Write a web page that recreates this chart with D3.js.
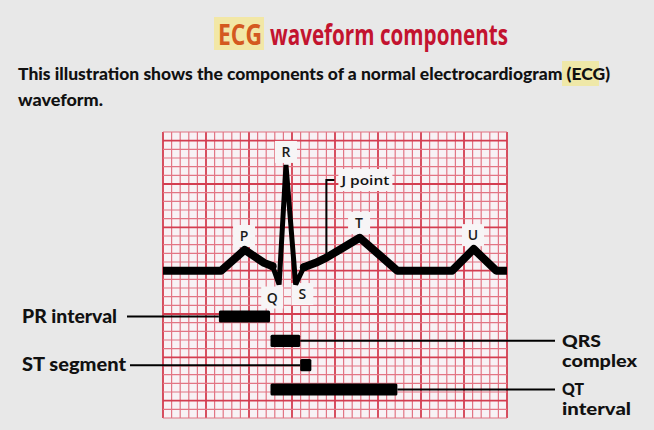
<!DOCTYPE html>
<html><head><meta charset="utf-8">
<script src="https://cdn.jsdelivr.net/npm/d3@7"></script>
<style>html,body{margin:0;padding:0;background:#e8e8e8;}svg{display:block;}</style>
</head><body>
<script>
// ---- data ----
const waveTime = [0, 0.27, 0.38, 0.47, 0.51, 0.54, 0.572, 0.617, 0.655, 0.71, 0.76, 0.915, 1.09, 1.345, 1.445, 1.55, 1.6]; // seconds
const waveMv   = [0, 0, 0.24, 0.09, 0.05, -0.16, 1.22, -0.16, 0.04, 0.09, 0.15, 0.38, 0.0, 0, 0.25, 0, 0];       // mV
const qrsRange = [4, 8]; // indices of QRS section (thinner stroke)
const waveLabels = ["P", "Q", "R", "S", "T", "U"];
const waveLabelT = [0.377, 0.508, 0.572, 0.648, 0.912, 1.442];
const waveLabelMv = [0.40, -0.31, 1.37, -0.27, 0.55, 0.41];
const jPointT = 0.76, jPointMv = 0.15;
const intervalNames = ["PR interval", "QRS complex", "ST segment", "QT interval"];
const intervalStart = [0.26, 0.50, 0.638, 0.50];
const intervalEnd   = [0.498, 0.638, 0.69, 1.09];
const gridTimeDomain = [0, 1.6];
const gridMvDomain = [-1.7, 1.6];

const W = 654, H = 430;
const svg = d3.select("body").append("svg").attr("width", W).attr("height", H);
svg.append("rect").attr("width", W).attr("height", H).attr("fill", "#e8e8e8");

const x = d3.scaleLinear().domain(gridTimeDomain).range([163, 507]);
const y = d3.scaleLinear().domain(gridMvDomain).range([418, 132]);
const bandY = d3.scaleBand().domain(intervalNames).range([308, 398]).paddingInner(0.5).paddingOuter(0.1);

const font = "'Open Sans', 'DejaVu Sans', sans-serif";
const narrow = "Lato, 'Open Sans', sans-serif";

// ---- title ----
svg.append("rect").attr("x", 214).attr("y", 17).attr("width", 50).attr("height", 33).attr("fill", "#f2e7a6");
svg.append("text").attr("x", 218).attr("y", 45).attr("font-family", font).attr("font-weight", 700)
  .attr("font-size", 28).attr("fill", "#d4591f").attr("textLength", 44).attr("lengthAdjust", "spacingAndGlyphs").text("ECG");
svg.append("text").attr("x", 270).attr("y", 45).attr("font-family", font).attr("font-weight", 700)
  .attr("font-size", 28).attr("fill", "#c3132f").attr("textLength", 238).attr("lengthAdjust", "spacingAndGlyphs").text("waveform components");

// ---- subtitle ----
svg.append("rect").attr("x", 562).attr("y", 61).attr("width", 37).attr("height", 25).attr("fill", "#efe8a8");
svg.append("text").attr("x", 18).attr("y", 80).attr("font-family", narrow).attr("font-weight", 900)
  .attr("font-size", 17).attr("fill", "#111").attr("textLength", 592).attr("lengthAdjust", "spacingAndGlyphs")
  .text("This illustration shows the components of a normal electrocardiogram (ECG)");
svg.append("text").attr("x", 18).attr("y", 106).attr("font-family", narrow).attr("font-weight", 900)
  .attr("font-size", 17).attr("fill", "#111").attr("textLength", 85).attr("lengthAdjust", "spacingAndGlyphs")
  .text("waveform.");

// ---- grid ----
const g = svg.append("g");
g.append("rect").attr("x", x(gridTimeDomain[0])).attr("y", y(gridMvDomain[1]))
  .attr("width", x(gridTimeDomain[1]) - x(gridTimeDomain[0])).attr("height", y(gridMvDomain[0]) - y(gridMvDomain[1]))
  .attr("fill", "#f8f2f5");
const tTicks = d3.range(0, 41).map(i => i * 0.04);
const vTicks = d3.range(-17, 17).map(i => i / 10);
g.selectAll("line.v").data(tTicks).join("line")
  .attr("x1", d => x(d)).attr("x2", d => x(d)).attr("y1", y(gridMvDomain[1])).attr("y2", y(gridMvDomain[0]))
  .attr("stroke", (d, i) => i % 5 === 0 ? "#d33d50" : "#e27584")
  .attr("stroke-width", (d, i) => i % 5 === 0 ? 1.8 : 1.2);
g.selectAll("line.h").data(vTicks).join("line")
  .attr("y1", d => y(d)).attr("y2", d => y(d)).attr("x1", x(gridTimeDomain[0])).attr("x2", x(gridTimeDomain[1]))
  .attr("stroke", (d, i) => (Math.round(d * 10) % 5 === 0) ? "#d33d50" : "#e27584")
  .attr("stroke-width", (d, i) => (Math.round(d * 10) % 5 === 0) ? 1.8 : 1.2);

// ---- label backgrounds ----
const lbl = svg.append("g");
waveLabels.forEach((L, i) => {
  const cx = x(waveLabelT[i]), cy = y(waveLabelMv[i]);
  lbl.append("rect").attr("x", cx - 11).attr("y", cy - 11).attr("width", 22).attr("height", 22).attr("fill", "#f7f5f6");
});
lbl.append("rect").attr("x", x(jPointT) + 12).attr("y", 169).attr("width", 54).attr("height", 22).attr("fill", "#f7f5f6");

// ---- waveform ----
const pts = waveTime.map((t, i) => [x(t), y(waveMv[i])]);
const line = d3.line();
const partA = pts.slice(0, qrsRange[0] + 1);
const partB = pts.slice(qrsRange[0], qrsRange[1] + 1);
const partC = pts.slice(qrsRange[1]);
[partA, partC].forEach(p => svg.append("path").attr("d", line(p)).attr("fill", "none")
  .attr("stroke", "#000").attr("stroke-width", 8).attr("stroke-linejoin", "round").attr("stroke-linecap", "butt"));
[pts[qrsRange[0]], pts[qrsRange[1]]].forEach(p => svg.append("circle").attr("cx", p[0]).attr("cy", p[1]).attr("r", 4).attr("fill", "#000"));
svg.append("path").attr("d", line(partB)).attr("fill", "none")
  .attr("stroke", "#000").attr("stroke-width", 5).attr("stroke-linejoin", "miter").attr("stroke-miterlimit", 3);

// wave letters
waveLabels.forEach((L, i) => {
  svg.append("text").attr("x", x(waveLabelT[i])).attr("y", y(waveLabelMv[i]) + 5)
    .attr("text-anchor", "middle").attr("font-family", font).attr("font-weight", 600)
    .attr("font-size", 14).attr("fill", "#1a1a1a").text(L);
});

// J point leader
const jx = x(jPointT);
svg.append("path").attr("d", `M${jx},${y(jPointMv) - 3} V180 H${jx + 8}`).attr("fill", "none")
  .attr("stroke", "#000").attr("stroke-width", 2);
svg.append("text").attr("x", jx + 15).attr("y", 185).attr("font-family", font).attr("font-weight", 600)
  .attr("font-size", 13).attr("fill", "#111").attr("textLength", 48).attr("lengthAdjust", "spacingAndGlyphs").text("J point");

// ---- interval bars ----
const bars = svg.append("g");
intervalNames.forEach((n, i) => {
  const yb = bandY(n), h = bandY.bandwidth(), ym = yb + h / 2;
  const x0 = x(intervalStart[i]), x1 = x(intervalEnd[i]);
  const leftLabel = (n === "PR interval" || n === "ST segment");
  if (leftLabel) {
    const lx = n === "PR interval" ? 127 : 130;
    bars.append("line").attr("x1", lx).attr("x2", x0).attr("y1", ym).attr("y2", ym).attr("stroke", "#000").attr("stroke-width", 2);
    bars.append("text").attr("x", 22).attr("y", ym + 6).attr("font-family", narrow).attr("font-weight", 900)
      .attr("font-size", 18).attr("fill", "#111")
      .attr("textLength", n === "PR interval" ? 95 : 104).attr("lengthAdjust", "spacingAndGlyphs").text(n);
  } else {
    bars.append("line").attr("x1", x1).attr("x2", 555).attr("y1", ym).attr("y2", ym).attr("stroke", "#000").attr("stroke-width", 2);
    const parts = n.split(" ");
    const lens = n === "QRS complex" ? [39, 75] : [22, 69];
    parts.forEach((p, k) => {
      bars.append("text").attr("x", 562).attr("y", ym + 6 + k * 20).attr("font-family", narrow).attr("font-weight", 900)
        .attr("font-size", 16).attr("fill", "#111").attr("textLength", lens[k]).attr("lengthAdjust", "spacingAndGlyphs").text(p);
    });
  }
  bars.append("rect").attr("x", x0).attr("y", yb).attr("width", x1 - x0).attr("height", h).attr("rx", 1.5).attr("fill", "#000");
});
</script>
</body></html>
